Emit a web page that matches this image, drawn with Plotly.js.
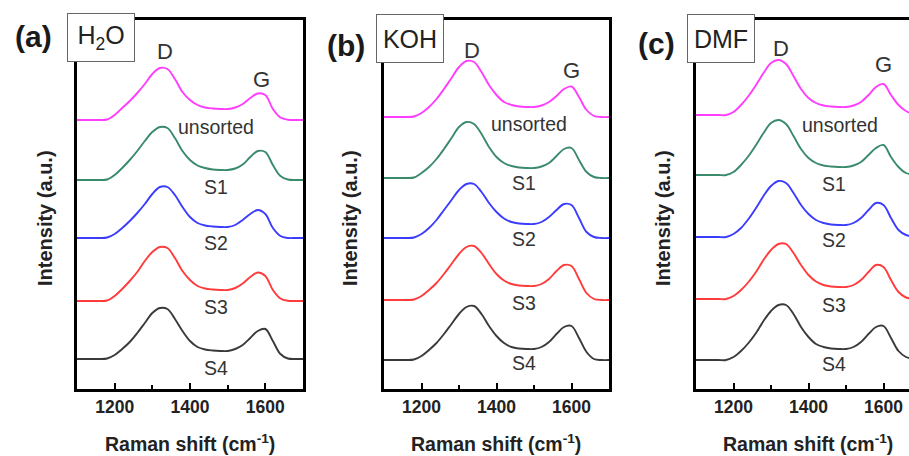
<!DOCTYPE html>
<html><head><meta charset="utf-8">
<script src="https://cdn.plot.ly/plotly-3.0.1.min.js"></script>
<style>html,body{margin:0;padding:0;overflow:hidden;background:#fff;width:909px;height:456px}</style>
</head><body><div id="chart" style="width:935px;height:456px"></div>
<script>
// Raman shift sample positions (cm^-1)
const ramanShift = [1100,1120,1140,1160,1180,1200,1220,1240,1260,1280,1300,1320,1340,1360,1380,1400,1420,1440,1460,1480,1500,1520,1540,1560,1580,1600,1620,1640,1660,1680,1700];
const sampleNames = ['unsorted','S1','S2','S3','S4'];
const sampleColors = ['#ff3dff','#3a8a6c','#3c3cff','#ff3b3b','#3a3a3a'];

// (a) H2O
const h2o_unsorted = [0,0,0,0,0.5,5,12,19,27,36,46,52,51,41,28,20,15,12.5,11.5,11,11,12.5,16,22,26.5,25,11,2.5,0.3,0,0];
const h2o_S1 = [0,0,0,0,0.5,5,12,20,29,39,48,53,52,42,29,20,14.5,12,10.5,10,10,11.5,15.5,23,29,28,15,4,0.5,0,0];
const h2o_S2 = [0,0,0,0,0.5,4,10,17,25,34,44,51,51,43,31,21,15,12.5,11.5,11,11,13,18,24,28,24,10,2,0,0,0];
const h2o_S3 = [0,0,0,0,0.5,5,12,20,29,40,49,54,53,43,30,21,15,12.5,11.5,11,11,13,17.5,24,28.5,25,11,2.5,0.2,0,0];
const h2o_S4 = [0,0,0,0,0.5,4,10,17,26,36,46,51,50,40,28,18,12,9.5,8.5,8,8,10,14,21,28,30,18,5,0.5,0,0];
const h2o_offsets = [269,209,151,88,30];

// (b) KOH
const koh_unsorted = [0,0,0,0,0.5,4,10,18,28,39,50,56,55,45,32,22,15,12,10.5,10,10,11.5,15,21,28,30.5,20,7,1,0,0];
const koh_S1 = [0,0,0,0,0.5,5,11,19,29,40,51,56,54,44,31,21,15,12,10.5,10,10,11.5,15,22,29,30,18,6,1,0,0];
const koh_S2 = [0,0,0,0,0.5,4,10,18,28,38,48,54,54,46,35,26,19.5,16,14.5,14,14,16,21,28,34,33,20,6,1,0,0];
const koh_S3 = [0,0,0,0,0.5,4,10,17,26,36,46,53,54,47,36,26,19.5,16,14.5,14,14,16,21,29,35,34,21,7,1,0,0];
const koh_S4 = [0,0,0,0,0.5,4,10,17,26,36,46,53,54,46,34,24,17,13,11.5,11,11,13,18,26,33,34,22,8,1,0,0];
const koh_offsets = [272,211,151,89,29];

// (c) DMF
const dmf_unsorted = [0,0,0,0,0,3,10,19,30,42,52,55,51,39,26,17,12,9.5,8.5,8,8,9.5,13,20,28,31,20,10,4,1,0];
const dmf_S1 = [0,0,0,0,0,3,10,19,30,42,52,55,51,39,26,17,12,9.5,8.5,8,8,9.5,13,20,27,30,18,8,2,0.5,0];
const dmf_S2 = [0,0,0,0,0,3,9,18,29,41,51,56,54,44,32,23,17,14,12.5,12,12,14,19,27,34,32,19,7,2,0.5,0];
const dmf_S3 = [0,0,0,0,0,3,9,17,27,39,49,55,55,46,34,24,17.5,14,12.5,12,12,14,19,27,34,32,19,7,1.5,0.5,0];
const dmf_S4 = [0,0,0,0,0,3,9,17,27,39,49,55,55,46,33,23,16,13,11.5,11,11,13,18,26,33,34,22,9,3,1,0];
const dmf_offsets = [274,214,152,90,29];

const panels = [
  {series:[h2o_unsorted,h2o_S1,h2o_S2,h2o_S3,h2o_S4], offsets:h2o_offsets, xa:'x', ya:'y'},
  {series:[koh_unsorted,koh_S1,koh_S2,koh_S3,koh_S4], offsets:koh_offsets, xa:'x2', ya:'y2'},
  {series:[dmf_unsorted,dmf_S1,dmf_S2,dmf_S3,dmf_S4], offsets:dmf_offsets, xa:'x3', ya:'y3'}
];

const traces = [];
panels.forEach(p => {
  p.series.forEach((s, i) => {
    traces.push({
      x: ramanShift, y: s.map(v => v + p.offsets[i]),
      xaxis: p.xa, yaxis: p.ya, type: 'scatter', mode: 'lines',
      line: {color: sampleColors[i], width: 1.9, shape: 'spline', smoothing: 1},
      name: sampleNames[i], hoverinfo: 'skip'
    });
  });
});

const W = 935, H = 456;
const FONT = 'Arial, "Liberation Sans", sans-serif';
const yDom = [1 - 389/H, 1 - 20/H];
function xAxis(d0, d1, anchor) {
  return {domain:[d0/W, d1/W], anchor:anchor, range:[1100,1700], showgrid:false, zeroline:false,
    showline:true, mirror:true, linecolor:'#000', linewidth:3,
    ticks:'inside', ticklen:6, tickwidth:2, tickcolor:'#000', tick0:1200, dtick:200,
    minor:{ticks:'inside', dtick:100, tick0:1100, ticklen:4, tickwidth:2, tickcolor:'#000'},
    tickfont:{family:FONT, size:17.5, color:'#222', weight:'bold'}, fixedrange:true};
}
function yAxis(anchor) {
  return {domain:yDom, anchor:anchor, range:[0,369], showgrid:false, zeroline:false,
    showline:true, mirror:true, linecolor:'#000', linewidth:3, ticks:'', showticklabels:false, fixedrange:true};
}

const ann = [];
function paperText(px, py, text, size, opts) {
  ann.push(Object.assign({xref:'paper', yref:'paper', x:px/W, y:1-py/H, text:text, showarrow:false,
    xanchor:'center', yanchor:'middle', font:{family:FONT, size:size, color:'#222'}}, opts||{}));
}
function dataText(xa, ya, x, y, text, size) {
  ann.push({xref:xa, yref:ya, x:x, y:y, text:text, showarrow:false, xanchor:'center', yanchor:'middle',
    font:{family:FONT, size:size, color:'#333'}});
}
const panelLetters = ['(a)','(b)','(c)'];
const solvents = ['H<sub>2</sub>O','KOH','DMF'];
const letterPos = [[33,37],[346,45],[656,43]];
const boxPos = [[100.5,37.5],[409.5,38.5],[721,38.5]];
const xTitlePos = [[190,443],[496,443],[808,443]];
const yTitlePos = [[45,218],[350,218],[663,218]];
for (let k = 0; k < 3; k++) {
  paperText(letterPos[k][0], letterPos[k][1], '<b>'+panelLetters[k]+'</b>', 30, {font:{family:FONT,size:30,color:'#1a1a1a'}});
  paperText(boxPos[k][0], boxPos[k][1], solvents[k], 25, {bgcolor:'#fff', bordercolor:'#666', borderwidth:1, borderpad:1, width:64, height:45});
  paperText(xTitlePos[k][0], xTitlePos[k][1], '<b>Raman shift (cm<sup>-1</sup>)</b>', 19.5);
  paperText(yTitlePos[k][0], yTitlePos[k][1], '<b>Intensity (a.u.)</b>', 20, {textangle:-90});
}
// Peak and sample labels (data coordinates)
const labelSets = [
  {xa:'x', ya:'y', D:[1334,338], G:[1591,310], lx:[1469,1469,1469,1469,1469], ly:[262,202,146,82,21]},
  {xa:'x2', ya:'y2', D:[1335,339], G:[1599,319], lx:[1487,1473,1473,1473,1473], ly:[265,206,150,86,26]},
  {xa:'x3', ya:'y3', D:[1327,341], G:[1601,325], lx:[1484,1468,1468,1468,1468], ly:[264,205,149,84,25]}
];
labelSets.forEach(L => {
  dataText(L.xa, L.ya, L.D[0], L.D[1], 'D', 22);
  dataText(L.xa, L.ya, L.G[0], L.G[1], 'G', 22);
  sampleNames.forEach((n, i) => dataText(L.xa, L.ya, L.lx[i], L.ly[i], n, 19.5));
});

const layout = {
  width: W, height: H, margin:{l:0,r:0,t:0,b:0}, showlegend:false,
  paper_bgcolor:'#fff', plot_bgcolor:'#fff',
  xaxis: xAxis(77,303,'y'), yaxis: yAxis('x'),
  xaxis2: xAxis(384,609,'y2'), yaxis2: yAxis('x2'),
  xaxis3: xAxis(696,921,'y3'), yaxis3: yAxis('x3'),
  annotations: ann
};
Plotly.newPlot('chart', traces, layout, {displayModeBar:false, staticPlot:true});
</script></body></html>
